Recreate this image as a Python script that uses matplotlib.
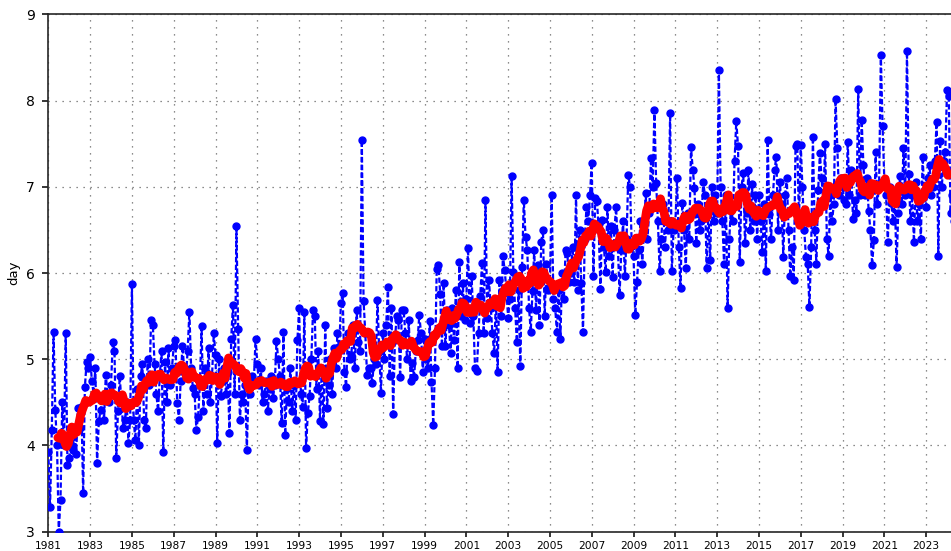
import numpy as np
import matplotlib
matplotlib.use("Agg")
import matplotlib.pyplot as plt

# Monthly values (day), one list per year, Jan..Dec
m1981 = [3.93, 3.29, 4.18, 5.32, 4.41, 4.0, 3.0, 3.37, 4.51, 4.0, 5.3, 3.77]
m1982 = [3.85, 4.0, 3.95, 4.2, 3.9, 4.44, 4.2, 4.45, 3.45, 4.68, 4.97, 4.9]
m1983 = [5.03, 4.75, 4.6, 4.9, 3.8, 4.28, 4.41, 4.55, 4.3, 4.82, 4.6, 4.5]
m1984 = [4.7, 5.2, 5.1, 3.86, 4.4, 4.8, 4.5, 4.2, 4.3, 4.5, 4.03, 4.3]
m1985 = [5.87, 4.3, 4.06, 4.66, 4.0, 4.8, 4.95, 4.3, 4.2, 5.0, 4.7, 5.45]
m1986 = [5.4, 4.95, 4.6, 4.4, 4.8, 5.1, 3.92, 4.97, 4.5, 5.13, 4.7, 4.9]
m1987 = [5.15, 5.22, 4.49, 4.3, 4.75, 5.15, 4.9, 4.8, 5.1, 5.55, 4.9, 4.67]
m1988 = [4.6, 4.18, 4.33, 4.7, 5.38, 4.4, 4.9, 4.6, 5.13, 4.5, 4.8, 5.3]
m1989 = [5.05, 4.03, 5.0, 4.57, 4.75, 4.9, 4.6, 4.85, 4.15, 5.24, 5.63, 4.6]
m1990 = [6.54, 5.35, 4.3, 4.6, 4.5, 4.7, 3.95, 4.7, 4.6, 4.8, 4.75, 5.24]
m1991 = [4.95, 4.7, 4.9, 4.5, 4.6, 4.75, 4.4, 4.65, 4.8, 4.55, 4.7, 5.21]
m1992 = [5.0, 4.8, 4.26, 5.32, 4.12, 4.67, 4.5, 4.9, 4.4, 4.7, 4.3, 5.22]
m1993 = [5.59, 4.6, 4.45, 5.55, 3.97, 4.38, 4.57, 5.0, 5.57, 5.5, 4.66, 5.1]
m1994 = [4.28, 4.9, 4.25, 5.4, 4.44, 4.7, 5.0, 4.6, 5.13, 4.9, 5.3, 5.1]
m1995 = [5.65, 5.77, 4.85, 4.68, 5.3, 5.0, 5.05, 5.4, 4.9, 5.57, 5.2, 5.1]
m1996 = [7.54, 5.68, 5.3, 4.82, 4.9, 4.9, 4.72, 5.0, 4.95, 5.69, 5.08, 4.61]
m1997 = [5.3, 5.0, 5.4, 5.84, 4.8, 5.6, 4.37, 5.22, 5.5, 5.46, 4.79, 5.57]
m1998 = [5.57, 5.3, 5.0, 5.45, 4.75, 4.96, 4.79, 5.1, 5.22, 5.51, 5.3, 4.85]
m1999 = [5.24, 5.0, 4.9, 5.44, 4.74, 4.24, 4.9, 6.05, 6.09, 5.76, 5.15, 5.88]
m2000 = [5.15, 5.57, 5.4, 5.07, 5.6, 5.22, 5.8, 4.9, 6.13, 5.5, 5.88, 5.45]
m2001 = [5.7, 6.29, 5.42, 5.97, 5.5, 4.9, 4.86, 5.3, 5.73, 6.12, 5.3, 6.85]
m2002 = [5.48, 5.92, 5.6, 5.3, 5.07, 5.7, 4.85, 5.92, 5.5, 6.2, 6.04, 5.8]
m2003 = [5.48, 5.7, 7.12, 6.01, 5.6, 5.2, 5.8, 4.92, 6.07, 6.85, 6.42, 6.27]
m2004 = [5.6, 5.32, 5.79, 6.27, 5.57, 6.09, 5.4, 6.36, 6.5, 5.5, 6.1, 5.8]
m2005 = [5.9, 6.9, 5.7, 5.6, 5.32, 5.8, 5.24, 6.0, 5.7, 6.27, 6.23, 5.9]
m2006 = [6.0, 6.3, 5.9, 6.9, 5.8, 6.5, 5.88, 5.32, 6.4, 6.77, 6.6, 6.9]
m2007 = [7.28, 5.96, 6.87, 6.84, 6.5, 5.82, 6.61, 6.3, 6.01, 6.77, 6.2, 6.54]
m2008 = [5.95, 6.5, 6.76, 6.3, 5.75, 6.27, 6.6, 5.96, 6.4, 7.14, 7.0, 6.31]
m2009 = [6.2, 5.51, 5.9, 6.27, 6.6, 6.1, 6.5, 6.93, 6.4, 6.7, 7.33, 7.0]
m2010 = [7.89, 7.04, 6.6, 6.02, 6.4, 6.8, 6.3, 6.6, 6.5, 7.85, 6.02, 6.5]
m2011 = [6.57, 7.1, 6.3, 5.83, 6.81, 6.5, 6.06, 6.7, 6.4, 7.46, 7.2, 6.99]
m2012 = [6.35, 6.8, 6.5, 6.6, 7.06, 6.9, 6.06, 6.7, 6.15, 7.0, 6.6, 6.9]
m2013 = [6.7, 8.35, 7.0, 6.6, 6.1, 6.9, 5.6, 6.4, 6.8, 6.6, 7.3, 7.76]
m2014 = [7.47, 6.13, 7.0, 7.16, 6.35, 6.7, 7.2, 6.5, 7.03, 6.6, 6.9, 6.4]
m2015 = [6.9, 6.6, 6.24, 6.8, 6.02, 7.54, 6.68, 6.4, 6.9, 7.2, 7.35, 6.5]
m2016 = [7.05, 6.8, 6.19, 6.9, 7.1, 6.5, 5.96, 6.3, 5.92, 7.47, 7.5, 6.6]
m2017 = [7.48, 7.0, 6.5, 6.19, 6.1, 5.61, 6.3, 7.58, 6.5, 6.11, 6.96, 7.39]
m2018 = [7.1, 6.8, 7.5, 6.4, 6.2, 6.9, 6.6, 6.8, 8.02, 7.45, 6.9, 7.1]
m2019 = [7.0, 6.85, 6.8, 7.52, 6.9, 7.2, 6.63, 6.85, 6.7, 8.13, 6.9, 7.77]
m2020 = [7.25, 6.9, 7.1, 6.72, 6.5, 6.09, 6.38, 7.4, 6.8, 7.03, 8.53, 7.7]
m2021 = [7.08, 6.9, 6.36, 7.0, 6.81, 6.6, 6.9, 6.07, 6.7, 7.13, 6.8, 7.45]
m2022 = [6.9, 8.57, 7.15, 6.6, 6.9, 6.36, 7.05, 6.6, 6.8, 6.4, 7.35, 6.9]
m2023 = [6.77, 7.1, 7.25, 6.9, 7.0, 7.3, 7.75, 6.2, 7.53, 7.0, 7.3, 7.4]
m2024 = [8.12, 8.05, 6.7, 6.9, 6.6, 6.8, 7.0]

start_year = 1981
xtick_years = list(range(1981, 2024, 2))
ytick_vals = [3, 4, 5, 6, 7, 8, 9]
ylabel_text = "day"

years_data = [m1981, m1982, m1983, m1984, m1985, m1986, m1987, m1988, m1989, m1990,
              m1991, m1992, m1993, m1994, m1995, m1996, m1997, m1998, m1999, m2000,
              m2001, m2002, m2003, m2004, m2005, m2006, m2007, m2008, m2009, m2010,
              m2011, m2012, m2013, m2014, m2015, m2016, m2017, m2018, m2019, m2020,
              m2021, m2022, m2023, m2024]
vals = np.concatenate([np.array(v, dtype=float) for v in years_data])
t = start_year + np.arange(len(vals)) / 12.0

# 12-month centred running mean
win = 12
rm = np.convolve(vals, np.ones(win) / win, mode="valid")
t_rm = t[:len(rm)] + (win - 1) / 2 / 12.0

fig = plt.figure(figsize=(9.51, 5.51), dpi=100)
ax = fig.add_axes([0.0508, 0.035, 0.9492, 0.939])

ax.plot(t, vals, color="blue", linestyle=(0, (2.4, 1.1)), linewidth=1.6,
        marker="o", markersize=5, markeredgecolor="blue", markerfacecolor="blue", zorder=3)
ax.plot(t_rm, rm, color="red", linewidth=6.3, solid_capstyle="round", zorder=4)

ax.set_xlim(1981, 2024.19)
ax.set_ylim(3, 9)
ax.set_xticks(xtick_years)
ax.set_xticklabels([str(y) for y in xtick_years], fontsize=7.7)
ax.set_yticks(ytick_vals)
ax.set_yticklabels([str(v) for v in ytick_vals], fontsize=10)
ax.tick_params(axis="x", direction="out", length=3.5, width=1.1, pad=3)
ax.tick_params(axis="y", direction="out", length=4.5, width=1.1, pad=5)
ax.set_ylabel(ylabel_text, fontsize=9.5, labelpad=4)

ax.grid(True, color="0.4", linestyle=(0, (1, 4.6)), linewidth=0.9)
ax.set_axisbelow(True)
for side in ["left", "bottom", "top"]:
    ax.spines[side].set_linewidth(1.2)
    ax.spines[side].set_color("0.15")
ax.spines["right"].set_visible(False)

fig.savefig("out.png", dpi=100)
